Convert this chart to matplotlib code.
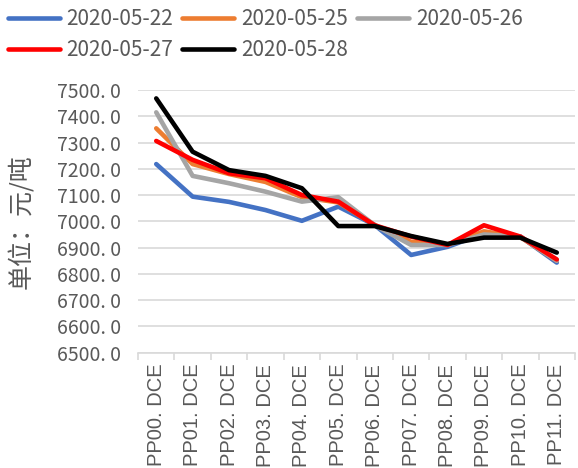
import numpy as np
import matplotlib.pyplot as plt

plt.rcParams['font.family'] = ['Noto Sans CJK SC', 'DejaVu Sans']

# data
contracts = ["PP00. DCE", "PP01. DCE", "PP02. DCE", "PP03. DCE", "PP04. DCE", "PP05. DCE",
             "PP06. DCE", "PP07. DCE", "PP08. DCE", "PP09. DCE", "PP10. DCE", "PP11. DCE"]
d0522 = [7218, 7094, 7074, 7043, 7002, 7056, 6986, 6872, 6903, 6954, 6942, 6843]
d0525 = [7354, 7218, 7180, 7150, 7092, 7072, 6986, 6922, 6910, 6962, 6940, 6850]
d0526 = [7415, 7173, 7145, 7113, 7075, 7092, 6985, 6910, 6910, 6950, 6942, 6850]
d0527 = [7306, 7234, 7183, 7164, 7100, 7075, 6985, 6942, 6910, 6985, 6942, 6855]
d0528 = [7468, 7265, 7195, 7173, 7126, 6982, 6982, 6944, 6914, 6938, 6938, 6881]
dates = ["2020-05-22", "2020-05-25", "2020-05-26", "2020-05-27", "2020-05-28"]
yticks = [6500, 6600, 6700, 6800, 6900, 7000, 7100, 7200, 7300, 7400, 7500]

colors = ["#4472C4", "#ED7D31", "#A5A5A5", "#FF0000", "#000000"]
text_col = "#595959"

fig = plt.figure(figsize=(5.78, 4.68), dpi=100)
ax = fig.add_axes([0.2388, 0.2464, 0.756, 0.5613])

x = np.arange(len(contracts))
handles = []
for vals, c, lab in zip([d0522, d0525, d0526, d0527, d0528], colors, dates):
    h, = ax.plot(x, vals, color=c, lw=3.3, label=lab, solid_capstyle="round")
    handles.append(h)

ax.set_xlim(-0.5, len(contracts) - 0.5)
ax.set_ylim(6500, 7500)
ax.set_yticks(yticks)
ax.set_yticklabels(["%d. 0" % v for v in yticks], fontsize=14, color=text_col)
ax.yaxis.grid(True, color="#D9D9D9", lw=1.2)
ax.set_axisbelow(True)
ax.tick_params(axis="y", length=0, pad=12)

# category labels between tick marks
ax.set_xticks(x)
ax.set_xticklabels(contracts, rotation=90, fontsize=14.5, color=text_col,
                   family="Liberation Sans")
ax.tick_params(axis="x", length=0, pad=8)
ax.set_xticks(np.arange(len(contracts) + 1) - 0.5, minor=True)
ax.tick_params(axis="x", which="minor", length=5, color="#D9D9D9", width=1.2)

for s in ["top", "right", "left"]:
    ax.spines[s].set_visible(False)
ax.spines["bottom"].set_color("#D9D9D9")
ax.spines["bottom"].set_linewidth(1.2)

ax.set_ylabel("单位：元/吨", fontsize=18, color=text_col, labelpad=16,
              fontweight="light")

# legend, reordered so rows read left to right
order = [0, 3, 1, 4, 2]
fig.legend([handles[i] for i in order], [dates[i] for i in order],
           loc="upper left", bbox_to_anchor=(-0.005, 1.005), ncol=3, frameon=False,
           fontsize=15, handlelength=2.5, handletextpad=0.33, columnspacing=0.43,
           labelspacing=0.42, borderaxespad=0.1, labelcolor=text_col)

fig.savefig("out.png", dpi=100)
